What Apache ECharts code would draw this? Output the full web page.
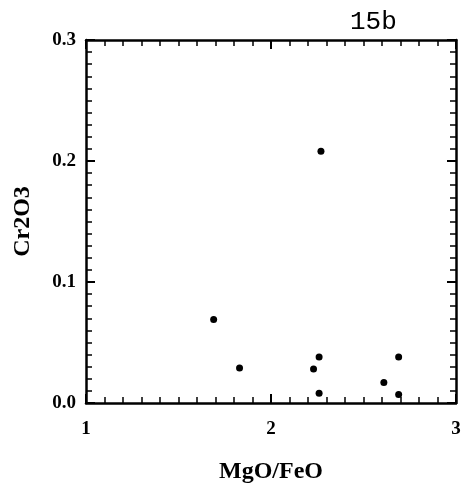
<!DOCTYPE html>
<html>
<head>
<meta charset="utf-8">
<script src="https://cdn.jsdelivr.net/npm/echarts@6/dist/echarts.min.js"></script>
<style>
  html, body { margin: 0; padding: 0; background: #fff; }
  #chart { width: 463px; height: 490px; }
</style>
</head>
<body>
<div id="chart"></div>
<script>
// MgO/FeO vs Cr2O3 (panel 15b)
const mgoFeo = [1.69, 1.83, 2.23, 2.26, 2.26, 2.27, 2.61, 2.69, 2.69];
const cr2o3 = [0.069, 0.029, 0.028, 0.038, 0.008, 0.208, 0.017, 0.038, 0.007];
const xTicks = [1, 2, 3];
const yTicks = [0.0, 0.1, 0.2, 0.3];

const points = mgoFeo.map((x, i) => [x, cr2o3[i]]);

const serif = 'Liberation Serif';
const lineStyle = {color: '#000', width: 2.5};

function frameAxis(min, max, interval, showLabels, extra) {
  return Object.assign({
    type: 'value',
    min: min,
    max: max,
    interval: interval,
    axisLine: {show: true, onZero: false, lineStyle: lineStyle},
    axisTick: {show: true, inside: true, length: 9, lineStyle: {color: '#000', width: 2}},
    minorTick: {show: true, splitNumber: 10, length: 6, lineStyle: {color: '#000', width: 1.5}},
    splitLine: {show: false},
    axisLabel: {show: showLabels}
  }, extra)
}

const chart = echarts.init(document.getElementById('chart'));
chart.setOption({
  backgroundColor: '#fff',
  animation: false,
  title: {
    text: '15b',
    left: 345,
    top: 4,
    textStyle: {fontFamily: 'Liberation Mono', fontSize: 26, fontWeight: 'normal', color: '#000'}
  },
  grid: {left: 86, right: 7, top: 40, bottom: 87, containLabel: false, outerBoundsMode: 'none'},
  xAxis: [
    frameAxis(1, 3, 1, true, {
      position: 'bottom',
      name: 'MgO/FeO',
      nameLocation: 'middle',
      nameGap: 57,
      nameTextStyle: {fontFamily: serif, fontSize: 24, fontWeight: 'bold', color: '#000'},
      axisLabel: {
        show: true, margin: 17, fontFamily: serif, fontSize: 19, fontWeight: 'bold', color: '#000',
        formatter: v => xTicks.includes(v) ? String(v) : ''
      }
    }),
    frameAxis(1, 3, 1, false, {position: 'top'})
  ],
  yAxis: [
    frameAxis(0, 0.3, 0.1, true, {
      position: 'left',
      name: 'Cr2O3',
      nameLocation: 'middle',
      nameGap: 51,
      nameTextStyle: {fontFamily: serif, fontSize: 24, fontWeight: 'bold', color: '#000'},
      axisLabel: {
        show: true, margin: 10, fontFamily: serif, fontSize: 19, fontWeight: 'bold', color: '#000',
        formatter: v => {
          const t = yTicks.find(y => Math.abs(y - v) < 1e-9);
          return t === undefined ? '' : t.toFixed(1)
        }
      }
    }),
    frameAxis(0, 0.3, 0.1, false, {position: 'right'})
  ],
  series: [
    {
      type: 'scatter',
      xAxisIndex: 0,
      yAxisIndex: 0,
      symbol: 'circle',
      symbolSize: 7,
      itemStyle: {color: '#000', opacity: 1},
      data: points
    }
  ]
});
</script>
</body>
</html>
